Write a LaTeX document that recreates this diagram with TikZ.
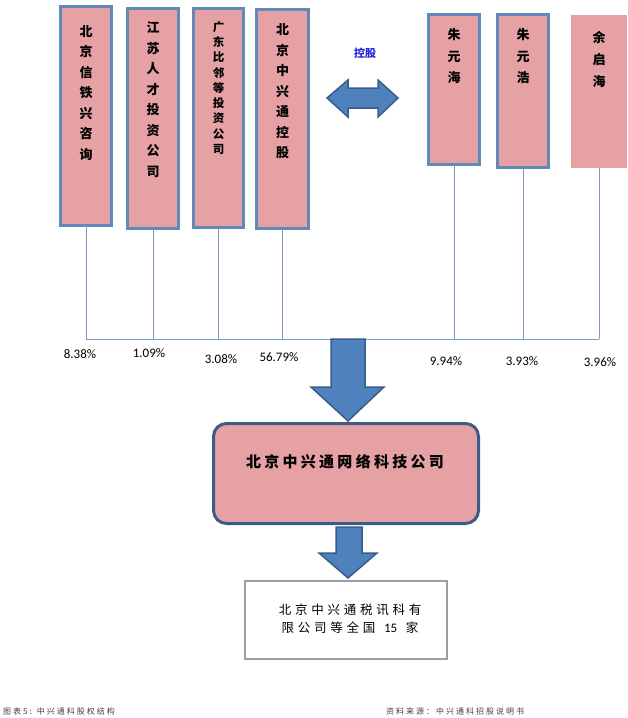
\documentclass[tikz,border=0pt]{standalone}
\usepackage{fontspec}
\setmainfont{Carlito}
\newfontfamily\cjk{Noto Sans CJK SC}
\usepackage{xcolor}
\usetikzlibrary{positioning}

\definecolor{boxpink}{RGB}{230,161,164}
\definecolor{boxedge}{RGB}{98,138,182}
\definecolor{arrowfill}{RGB}{79,129,189}
\definecolor{arrowedge}{RGB}{56,93,138}
\definecolor{linkline}{RGB}{125,155,190}
\definecolor{mainedge}{RGB}{60,92,135}
\definecolor{ctrlblue}{RGB}{35,35,215}

\tikzset{
  holder/.style={fill=boxpink, draw=boxedge, line width=3pt, outer sep=0pt, inner sep=0pt, anchor=north west},
  vname/.style={font=\cjk\bfseries\fontsize{13}{20.5}\selectfont, align=center, inner sep=0pt, anchor=north},
  share/.style={font=\fontsize{13}{15}\selectfont, inner sep=0pt},
  link/.style={draw=linkline, line width=0.8pt},
  blockarrow/.style={fill=arrowfill, draw=arrowedge, line width=1.5pt, line join=miter},
  footnote/.style={font=\cjk\fontsize{8}{9}\selectfont\addfontfeature{LetterSpace=25}, text=black!75, inner sep=0pt, anchor=west}
}

\begin{document}
\begin{tikzpicture}[x=1pt,y=-1pt]

\useasboundingbox (0,0) rectangle (627,718);

% Shareholder boxes (left group)
\node[holder, minimum width=51pt, minimum height=219pt] (xtx) at (60.5,6.5) {};
\node[holder, minimum width=51pt, minimum height=220pt] (jsrc) at (127.5,8.5) {};
\node[holder, minimum width=50pt, minimum height=219pt] (gdbl) at (193.5,8.5) {};
\node[holder, minimum width=52pt, minimum height=219pt] (zxtkg) at (256.5,9.5) {};

\node[vname, below=18.5pt of xtx.north] {北\\京\\信\\铁\\兴\\咨\\询};
\node[vname, below=13pt of jsrc.north] {江\\苏\\人\\才\\投\\资\\公\\司};
\node[vname, font=\cjk\bfseries\fontsize{11.5}{15.3}\selectfont, below=12.5pt of gdbl.north] {广\\东\\比\\邻\\等\\投\\资\\公\\司};
\node[vname, below=14pt of zxtkg.north] {北\\京\\中\\兴\\通\\控\\股};

% Shareholder boxes (persons)
\node[holder, minimum width=51pt, minimum height=150pt] (zyh) at (428.5,14.5) {};
\node[holder, minimum width=51pt, minimum height=153pt] (zyhao) at (497.5,14.5) {};
\node[holder, draw=none, minimum width=56pt, minimum height=153pt] (yqh) at (571,15) {};

\node[vname, font=\cjk\bfseries\fontsize{13}{21.5}\selectfont, below=14pt of zyh.north] {朱\\元\\海};
\node[vname, font=\cjk\bfseries\fontsize{13}{21.5}\selectfont, below=14pt of zyhao.north] {朱\\元\\浩};
\node[vname, font=\cjk\bfseries\fontsize{13}{22}\selectfont, below=16.5pt of yqh.north] {余\\启\\海};

% Control relation
\node[font=\cjk\bfseries\fontsize{11}{13}\selectfont, text=ctrlblue] (ctrl) at (365,53) {控股};
\draw[blockarrow] (327,98) -- (348,80) -- (348,88) -- (378,88) -- (378,80) -- (398,98)
  -- (378,117) -- (378,108) -- (348,108) -- (348,117) -- cycle;

% Holding lines
\coordinate (b1) at (xtx.south |- 0,339);
\coordinate (b2) at (jsrc.south |- 0,339);
\coordinate (b3) at (gdbl.south |- 0,339);
\coordinate (b4) at (zxtkg.south |- 0,339);
\coordinate (b5) at (zyh.south |- 0,339);
\coordinate (b6) at (zyhao.south |- 0,339);
\coordinate (b7) at (yqh.south |- 0,339);

\draw[link] (xtx.south) -- (b1);
\draw[link] (jsrc.south) -- (b2);
\draw[link] (gdbl.south) -- (b3);
\draw[link] (zxtkg.south) -- (b4);
\draw[link] (zyh.south) -- (b5);
\draw[link] (zyhao.south) -- (b6);
\draw[link] (yqh.south) -- (b7);
\draw[link] (b1) -- (b7);

% Shares
\node[share] (p1) at (80,354) {8.38\%};
\node[share] (p2) at (149,353) {1.09\%};
\node[share] (p3) at (221,359) {3.08\%};
\node[share] (p4) at (279,357) {56.79\%};
\node[share] (p5) at (446,361) {9.94\%};
\node[share] (p6) at (522,361) {3.93\%};
\node[share] (p7) at (600,362) {3.96\%};

% Main company
\draw[blockarrow] (331,339) -- (365,339) -- (365,387) -- (384,387) -- (348,421)
  -- (311,387) -- (331,387) -- cycle;
\node[fill=boxpink, draw=mainedge, line width=3pt, rounded corners=13pt,
  minimum width=265pt, minimum height=100pt, outer sep=0pt] (zxt) at (346,473.5) {};
\node[font=\cjk\bfseries\fontsize{15}{17}\selectfont\addfontfeature{LetterSpace=22}, inner sep=0pt]
  (zxtname) at (345,462) {北京中兴通网络科技公司};

% Subsidiaries
\draw[blockarrow] (336,527) -- (362,527) -- (362,553) -- (377,553) -- (348,578)
  -- (319,553) -- (336,553) -- cycle;
\node[draw=black!38, line width=1.5pt, fill=white, minimum width=202pt, minimum height=78pt,
  outer sep=0pt] (subs) at (346,620) {};
\node[font=\cjk\fontsize{12.5}{18}\selectfont\addfontfeature{LetterSpace=30}, align=center, inner sep=0pt]
  (subsname) at (350,619) {北京中兴通税讯科有\\限公司等全国 \,{\rmfamily\fontsize{13}{18}\selectfont 15}\, 家};

% Footer
\node[footnote] (cap) at (3,711) {图表5: 中兴通科股权结构};
\node[footnote] (src) at (386,711) {资料来源：中兴通科招股说明书};

\end{tikzpicture}
\end{document}
